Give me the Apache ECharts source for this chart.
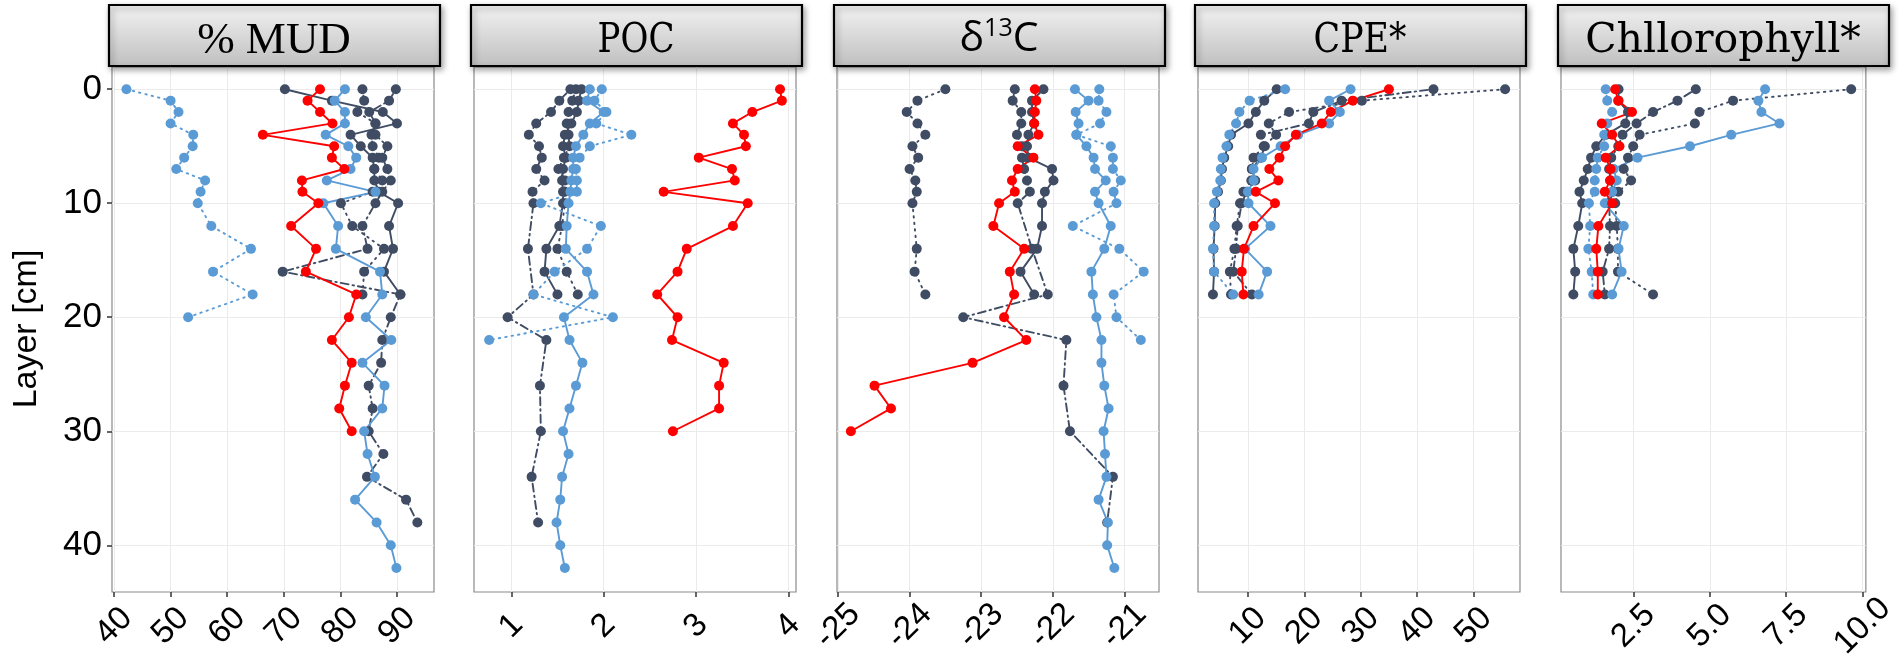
<!DOCTYPE html>
<html><head><meta charset="utf-8">
<script src="https://cdn.jsdelivr.net/npm/echarts@6/dist/echarts.min.js"></script>
<style>html,body{margin:0;padding:0;background:#fff}#c{width:1899px;height:669px}</style>
</head><body><div id="c"></div>
<script>
// depth layers [cm]
const layers = [0,1,2,3,4,5,6,7,8,9,10,12,14,16,18,20,22,24,26,28,30,32,34,36,38,40,42];
const yTicks = [0,10,20,30,40];
const panelTitles = ['% MUD','POC','δ13C','CPE*','Chllorophyll*'];

// tick labels per panel
const mudTicks = [40,50,60,70,80,90];
const pocTicks = [1,2,3,4];
const d13cTicks = [-25,-24,-23,-22,-21];
const cpeTicks = [10,20,30,40,50];
const chlTicks = [2.5,5.0,7.5,10.0];

// % MUD
const mudRed = [76.4,74.2,76.4,78.6,66.3,78.9,78.5,80.7,73.2,73.3,76.1,71.3,75.7,73.9,82.8,81.5,78.5,82.0,80.8,79.8,82.0];
const mudBlue = [80.8,79.0,80.8,80.8,77.4,81.4,82.8,81.8,77.6,86.2,77.0,79.6,79.2,87.0,87.4,84.5,89.0,83.9,87.8,87.4,84.2,84.8,86.1,82.6,86.4,88.9,89.9];
const mudBlueDot = [42.2,50.0,51.4,50.0,54.0,53.9,52.4,51.0,56.1,55.3,54.8,57.2,64.2,57.5,64.5,53.1];
const mudDark = [70.2,78.5,87.5,90.0,81.8,83.6,85.7,86.0,86.0,86.8,90.2,88.6,89.3,87.7,90.6];
const mudDarkDash = [89.8,88.6,85.1,86.2,86.2,88.3,87.4,88.3,88.9,87.4,86.2,83.9,84.8,69.8,90.6,88.9,87.4,87.2,85.0,85.7,85.0,87.6,84.7,91.6,93.6];
const mudDarkDot = [83.9,84.2,83.0,86.2,85.5,85.7,86.8,86.0,87.4,85.7,80.1,82.1,87.7,84.2,83.9];

// POC
const pocRed = [3.91,3.93,3.61,3.40,3.52,3.54,3.03,3.39,3.42,2.65,3.56,3.40,2.90,2.80,2.58,2.80,2.74,3.30,3.25,3.25,2.75];
const pocBlue = [1.85,1.82,2.00,1.85,1.78,1.70,1.67,1.67,1.65,1.64,1.62,1.60,1.59,1.82,1.89,1.57,1.63,1.77,1.70,1.63,1.56,1.62,1.55,1.53,1.49,1.53,1.58];
const pocBlueDot = [1.98,1.90,2.03,1.92,2.30,1.85,1.74,1.70,1.71,1.71,1.32,1.97,1.82,1.47,1.24,2.10,0.76];
const pocDark = [1.76,1.73,1.71,1.65,1.58,1.56,1.59,1.56,1.55,1.56,1.56,1.52,1.38,1.36,1.50];
const pocDarkDash = [1.64,1.52,1.43,1.27,1.19,1.30,1.33,1.27,1.36,1.23,1.24,null,1.18,null,1.24,0.96,1.38,null,1.31,null,1.32,null,1.22,null,1.29];
const pocDarkDot = [1.70,1.66,1.62,1.60,1.62,1.63,1.57,1.51,1.58,1.58,1.58,1.55,1.50,1.60,1.72];

// delta 13C
const d13cRed = [-22.25,-22.23,-22.25,-22.26,-22.20,-22.49,-22.27,-22.49,-22.57,-22.53,-22.75,-22.83,-22.40,-22.60,-22.54,-22.68,-22.37,-23.12,-24.49,-24.26,-24.82];
const d13cBlue = [-21.69,-21.50,-21.68,-21.64,-21.67,-21.53,-21.43,-21.41,-21.26,-21.41,-21.36,-21.19,-21.28,-21.46,-21.44,-21.39,-21.32,-21.32,-21.28,-21.22,-21.29,-21.27,-21.25,-21.36,-21.23,-21.24,-21.14];
const d13cBlueDot = [-21.35,-21.36,-21.25,-21.34,-21.67,-21.19,-21.16,-21.16,-21.05,-21.15,-21.11,-21.72,-21.07,-20.73,-21.15,-21.11,-20.77];
const d13cDark = [-22.13,-22.29,-22.29,-22.26,-22.34,-22.36,-22.34,-22.01,-21.99,-22.11,-22.15,-22.15,-22.22,-22.45,-22.26];
const d13cDarkDash = [-22.53,-22.56,-22.44,-22.44,-22.50,-22.43,-22.43,-22.40,-22.36,-22.32,-22.49,null,-22.29,null,-22.07,-23.25,-21.81,null,-21.85,null,-21.76,null,-21.16,null,-21.24];
const d13cDarkDot = [-23.50,-23.89,-24.04,-23.89,-23.78,-23.96,-23.88,-24.00,-23.92,-23.90,-23.96,null,-23.90,-23.93,-23.78];

// CPE*
const cpeRed = [35.0,28.6,24.7,23.1,18.5,16.6,15.6,13.8,15.4,11.4,14.8,11.0,9.3,8.9,9.2];
const cpeBlue = [28.2,24.4,26.3,24.4,18.9,15.8,12.5,11.0,11.0,10.0,10.1,14.0,9.5,13.4,11.9];
const cpeBlueDot = [16.6,10.3,8.5,7.9,6.7,6.2,5.5,5.2,5.1,4.5,4.0,4.0,3.8,4.0,7.4];
const cpeDark = [15.1,12.9,11.4,10.1,7.0,6.5,5.8,5.4,5.2,4.7,4.2,4.1,3.9,4.0,3.8];
const cpeDarkDash = [42.9,26.6,21.6,20.8,12.3,13.0,12.3,10.7,11.3,9.8,8.9,8.2,7.9,7.4,10.7];
const cpeDarkDot = [55.6,30.2,17.3,13.7,15.0,12.8,11.0,10.7,10.6,9.2,8.6,8.0,7.6,6.8,7.0];

// Chlorophyll*
const chlRed = [1.90,2.00,2.45,1.46,1.80,2.04,1.59,1.75,1.73,1.56,1.80,1.35,1.28,1.33,1.33];
const chlBlue = [6.81,6.59,6.69,7.28,5.70,4.35,2.63,1.85,1.95,1.80,1.56,2.18,2.01,2.11,1.80];
const chlBlueDot = [1.59,1.64,1.80,1.64,1.54,1.54,1.33,1.28,1.23,1.23,1.04,1.08,1.02,1.13,1.18];
const chlDark = [2.01,2.01,2.32,2.23,1.60,1.28,1.11,1.00,0.87,0.73,0.82,0.69,0.53,0.59,0.53];
const chlDarkDash = [4.54,3.94,3.14,2.60,2.14,2.00,1.77,1.70,1.75,1.83,1.70,1.73,1.70,1.49,1.56];
const chlDarkDot = [9.63,5.76,4.66,4.51,2.70,2.49,2.32,2.18,2.42,2.00,1.90,1.95,1.99,1.99,3.14];

const RED = '#ff0000', BLUE = '#5b9bd5', DARK = '#3f4c63';
const styles = {
  solid: 'solid',
  dotted: [1.5, 5],
  dotdash: [1.5, 4, 8, 4]
};

const panels = [
  {ticks: mudTicks, min: 39.65, max: 96.54, fmt: v => String(v),
   sets: [[mudDarkDot,DARK,'dotted'],[mudDarkDash,DARK,'dotdash'],[mudDark,DARK,'solid'],[mudBlueDot,BLUE,'dotted'],[mudBlue,BLUE,'solid'],[mudRed,RED,'solid']]},
  {ticks: pocTicks, min: 0.596, max: 4.083, fmt: v => String(v),
   sets: [[pocDarkDot,DARK,'dotted'],[pocDarkDash,DARK,'dotdash'],[pocDark,DARK,'solid'],[pocBlueDot,BLUE,'dotted'],[pocBlue,BLUE,'solid'],[pocRed,RED,'solid']]},
  {ticks: d13cTicks, min: -25.014, max: -20.516, fmt: v => String(v),
   sets: [[d13cDarkDot,DARK,'dotted'],[d13cDarkDash,DARK,'dotdash'],[d13cDark,DARK,'solid'],[d13cBlueDot,BLUE,'dotted'],[d13cBlue,BLUE,'solid'],[d13cRed,RED,'solid']]},
  {ticks: cpeTicks, min: 1.15, max: 58.24, fmt: v => String(v),
   sets: [[cpeDarkDot,DARK,'dotted'],[cpeDarkDash,DARK,'dotdash'],[cpeDark,DARK,'solid'],[cpeBlueDot,BLUE,'dotted'],[cpeBlue,BLUE,'solid'],[cpeRed,RED,'solid']]},
  {ticks: chlTicks, min: 0.125, max: 10.11, fmt: v => Number(v).toFixed(1),
   sets: [[chlDarkDot,DARK,'dotted'],[chlDarkDash,DARK,'dotdash'],[chlDark,DARK,'solid'],[chlBlueDot,BLUE,'dotted'],[chlBlue,BLUE,'solid'],[chlRed,RED,'solid']]}
];

const lefts = [112, 474, 837, 1198, 1561];
const W = 322, TOP = 67, H = 525;

const grids = [], xAxes = [], yAxes = [], series = [], graphics = [];
panels.forEach((p, i) => {
  grids.push({left: lefts[i], top: TOP, width: W, height: H, show: true,
    borderColor: '#8a8a8a', borderWidth: 1.2, backgroundColor: '#fff', containLabel: false});
  xAxes.push({type: 'value', gridIndex: i, min: p.min, max: p.max, position: 'bottom',
    axisLine: {show: false, onZero: false},
    axisTick: {show: true, length: 5, customValues: p.ticks, lineStyle: {color: '#333', width: 1.5}},
    axisLabel: {customValues: p.ticks, formatter: p.fmt, rotate: 45, align: 'center', verticalAlign: 'middle',
      margin: 34, fontSize: 33, color: '#000', fontFamily: 'Liberation Sans, Arial, sans-serif'},
    splitLine: {show: true, lineStyle: {color: '#ebebeb', width: 1}}});
  yAxes.push({type: 'value', gridIndex: i, inverse: true, min: -1.95, max: 44.1, position: 'left',
    axisLine: {show: false, onZero: false},
    axisTick: {show: i === 0, length: 5, customValues: yTicks, lineStyle: {color: '#333', width: 1.5}},
    axisLabel: {show: i === 0, customValues: yTicks, margin: 10, fontSize: 35, color: '#000',
      fontFamily: 'Liberation Sans, Arial, sans-serif'},
    splitLine: {show: true, lineStyle: {color: '#ebebeb', width: 1}}});
  p.sets.forEach(([vals, color, lt]) => {
    const data = [];
    vals.forEach((v, k) => { if (v !== null && v !== undefined) data.push([v, layers[k]]); });
    series.push({type: 'line', xAxisIndex: i, yAxisIndex: i, data: data,
      symbol: 'circle', symbolSize: 10, showSymbol: true, silent: true,
      itemStyle: {color: color},
      lineStyle: {color: color, width: 1.9, type: styles[lt], cap: 'round'},
      animation: false});
  });
  // facet header strip
  graphics.push({type: 'rect', z: 10,
    shape: {x: lefts[i] - 3, y: 5, width: W + 9, height: 61},
    style: {fill: new echarts.graphic.LinearGradient(0, 0, 0, 1, [
        {offset: 0, color: '#f3f3f3'}, {offset: 1, color: '#bfbfbf'}]),
      stroke: '#000', lineWidth: 2.2,
      shadowBlur: 6, shadowColor: 'rgba(0,0,0,0.35)', shadowOffsetX: 2, shadowOffsetY: 3}});
});

const cx = i => lefts[i] + W / 2 + 1;
const TY = 41;
graphics.push({type: 'text', z: 11, x: cx(0), y: TY,
  style: {text: panelTitles[0], align: 'center', verticalAlign: 'middle', fontSize: 45,
    fontFamily: 'Liberation Serif, Times New Roman, serif', fill: '#000'}});
graphics.push({type: 'text', z: 11, x: cx(1), y: TY, scaleX: 0.83,
  style: {text: panelTitles[1], align: 'center', verticalAlign: 'middle', fontSize: 41,
    fontFamily: 'DejaVu Serif, serif', fill: '#000'}});
graphics.push({type: 'text', z: 11, x: cx(2), y: TY - 2,
  style: {text: '{a|δ}{b|13}{a|C}', align: 'center', verticalAlign: 'middle',
    rich: {a: {fontSize: 41, lineHeight: 46, fontFamily: 'Open Sans, sans-serif', fill: '#000'},
           b: {fontSize: 25, lineHeight: 46, verticalAlign: 'top', padding: [0,0,14,0], fontFamily: 'Open Sans, sans-serif', fill: '#000'}}}});
graphics.push({type: 'text', z: 11, x: cx(3), y: TY, scaleX: 0.85,
  style: {text: panelTitles[3], align: 'center', verticalAlign: 'middle', fontSize: 41,
    fontFamily: 'DejaVu Serif, serif', fill: '#000'}});
graphics.push({type: 'text', z: 11, x: cx(4), y: TY,
  style: {text: panelTitles[4], align: 'center', verticalAlign: 'middle', fontSize: 41,
    fontFamily: 'DejaVu Serif, serif', fill: '#000'}});
graphics.push({type: 'text', z: 11, x: 27, y: 329, rotation: Math.PI / 2,
  style: {text: 'Layer [cm]', align: 'center', verticalAlign: 'middle', fontSize: 34,
    fontFamily: 'Liberation Sans, Arial, sans-serif', fill: '#000'}});

const chart = echarts.init(document.getElementById('c'), null, {renderer: 'canvas'});
chart.setOption({animation: false, backgroundColor: '#fff',
  grid: grids, xAxis: xAxes, yAxis: yAxes, series: series, graphic: graphics});
</script></body></html>
